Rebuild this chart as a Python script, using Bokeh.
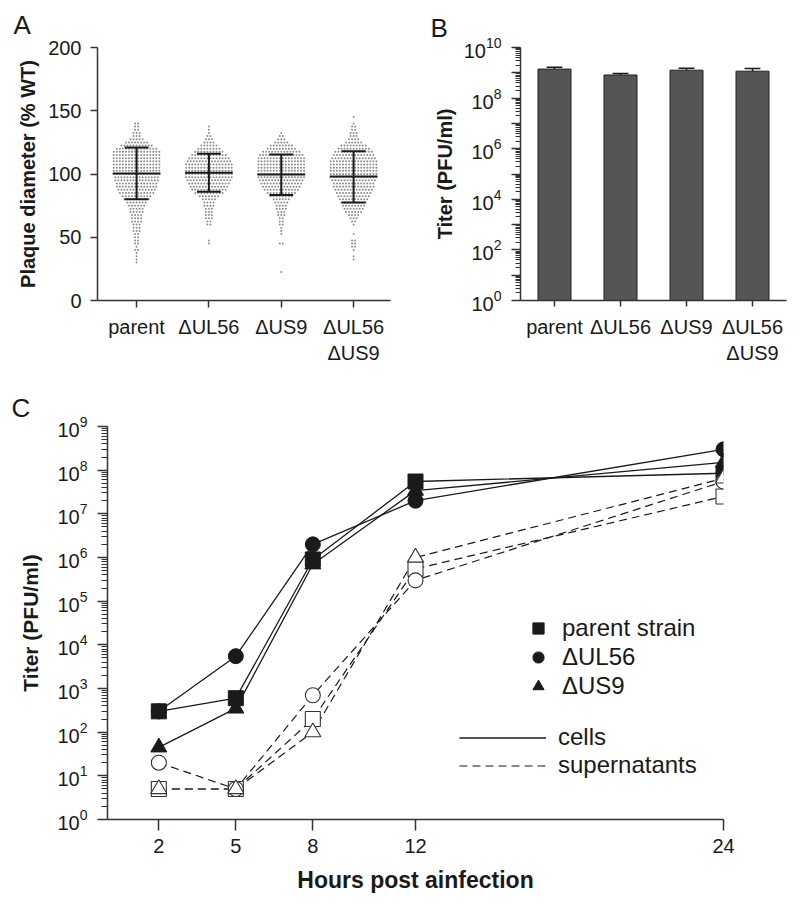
import numpy as np
from bokeh.plotting import figure
from bokeh.models import (Range1d, FixedTicker, Legend, LegendItem)
from bokeh.layouts import column, row
from bokeh.embed import file_html
from bokeh.resources import INLINE

FONT = "Liberation Sans"
INK = "#1a1a1a"
AX = "#333333"

# ---------------- Panel A data (plaque diameter, % WT) ----------------
strains = ["parent", "ΔUL56", "ΔUS9", "ΔUL56\nΔUS9"]
swarm_levels = [145, 142.5, 140, 137.5, 135, 132.5, 130, 127.5, 125, 122.5,
                120, 117.5, 115, 112.5, 110, 107.5, 105, 102.5, 100, 97.5,
                95, 92.5, 90, 87.5, 85, 82.5, 80, 77.5, 75, 72.5,
                70, 67.5, 65, 62.5, 60, 57.5, 55, 52.5, 50, 47.5,
                45, 42.5, 40, 37.5, 35, 32.5, 30, 27.5, 25, 22.5]
parent_counts = [0, 0, 2, 2, 2, 3, 3, 5, 8, 11,
                 14, 16, 16, 16, 16, 16, 16, 16, 16, 15,
                 15, 14, 14, 13, 12, 10, 9, 7, 6, 5,
                 5, 4, 4, 4, 3, 3, 3, 2, 2, 2,
                 2, 1, 2, 1, 1, 1, 1, 0, 0, 0]
ul56_counts = [0, 0, 0, 1, 1, 1, 2, 3, 4, 6,
               8, 10, 12, 14, 15, 16, 16, 16, 16, 16,
               15, 14, 13, 12, 10, 7, 5, 4, 4, 3,
               3, 3, 3, 2, 2, 0, 0, 0, 0, 1,
               1, 0, 0, 0, 0, 0, 0, 0, 0, 0]
us9_counts = [0, 0, 0, 0, 0, 1, 2, 3, 5, 8,
              10, 13, 15, 16, 16, 16, 16, 16, 16, 16,
              15, 14, 13, 12, 10, 8, 6, 5, 4, 4,
              3, 3, 2, 2, 2, 1, 1, 1, 0, 0,
              2, 0, 0, 0, 0, 0, 0, 0, 0, 1]
double_counts = [1, 0, 1, 2, 2, 3, 3, 4, 6, 9,
                 11, 13, 14, 15, 16, 16, 16, 16, 16, 16,
                 15, 14, 14, 13, 12, 11, 10, 9, 8, 7,
                 6, 4, 3, 2, 1, 0, 0, 1, 0, 2,
                 2, 2, 1, 0, 1, 1, 0, 0, 0, 0]
plaque_mean = [100.4, 101.0, 99.6, 98.0]
plaque_sd_hi = [121.0, 116.0, 115.5, 118.0]
plaque_sd_lo = [80.0, 86.0, 83.4, 77.4]

# ---------------- Panel B data (titer, PFU/ml) ----------------
titer_mean = [1.4e9, 8.2e8, 1.27e9, 1.16e9]
titer_err_top = [1.65e9, 9.4e8, 1.5e9, 1.47e9]

# ---------------- Panel C data (growth curves) ----------------
hours = [2, 5, 8, 12, 24]
parent_cells = [300, 600, 9e5, 5.5e7, 8.5e7]
ul56_cells = [300, 5.5e3, 2e6, 2e7, 3e8]
us9_cells = [45, 350, 7e5, 3.4e7, 1.5e8]
parent_sup = [5, 5, 200, 5.5e5, 2.5e7]
ul56_sup = [20, 5, 700, 3e5, 5.5e7]
us9_sup = [5, 5, 100, 1e6, 6.5e7]
legend_strains = ["parent strain", "ΔUL56", "ΔUS9"]
legend_kinds = ["cells", "supernatants"]


def style_axes(p, tick_size="20px"):
    for ax in list(p.xaxis) + list(p.yaxis):
        ax.axis_line_color = AX
        ax.axis_line_width = 1.5
        ax.major_tick_line_color = AX
        ax.major_tick_line_width = 1.5
        ax.minor_tick_line_color = None
        ax.major_tick_in = 0
        ax.major_label_text_font = FONT
        ax.major_label_text_font_size = tick_size
        ax.major_label_text_color = INK
        ax.axis_label_text_font = FONT
        ax.axis_label_text_font_style = "bold"
        ax.axis_label_text_color = INK
    p.xgrid.visible = False
    p.ygrid.visible = False
    p.outline_line_color = None


def panel_letter(p, text, offset, standoff):
    p.title.text = text
    p.title.align = "left"
    p.title.offset = offset
    p.title.standoff = standoff
    p.title.text_font = FONT
    p.title.text_font_size = "26px"
    p.title.text_font_style = "normal"
    p.title.text_color = INK


# ================= Panel A =================
pA = figure(width=408, height=372, x_range=Range1d(0.46, 4.51), y_range=Range1d(0, 200),
            output_backend="svg", toolbar_location=None,
            min_border_left=97, min_border_right=18, min_border_top=47, min_border_bottom=70)
style_axes(pA)
gx = [1, 2, 3, 4]
dx = 0.042
xs, ys = [], []
for g, counts in zip(gx, [parent_counts, ul56_counts, us9_counts, double_counts]):
    for lev, n in zip(swarm_levels, counts):
        if n == 0:
            continue
        off = (np.arange(n) - (n - 1) / 2.0) * dx
        xs.extend(list(g + off))
        ys.extend([lev] * n)
pA.scatter(xs, ys, size=2.0, fill_color="#8c8c8c", line_color=None)

gxa = np.array(gx, dtype=float)
pA.segment(x0=gxa - 0.33, x1=gxa + 0.33, y0=plaque_mean, y1=plaque_mean, line_color=INK, line_width=2)
pA.segment(x0=gxa, x1=gxa, y0=plaque_sd_lo, y1=plaque_sd_hi, line_color=INK, line_width=2)
pA.segment(x0=gxa - 0.165, x1=gxa + 0.165, y0=plaque_sd_hi, y1=plaque_sd_hi, line_color=INK, line_width=2)
pA.segment(x0=gxa - 0.165, x1=gxa + 0.165, y0=plaque_sd_lo, y1=plaque_sd_lo, line_color=INK, line_width=2)

pA.xaxis.ticker = FixedTicker(ticks=gx)
pA.xaxis.major_label_overrides = {g: s for g, s in zip(gx, strains)}
pA.xaxis.major_tick_out = 7
pA.xaxis.major_label_standoff = 8
pA.yaxis.ticker = FixedTicker(ticks=[0, 50, 100, 150, 200])
pA.yaxis.major_tick_out = 7
pA.yaxis.major_label_standoff = 9
pA.yaxis.axis_label = "Plaque diameter (% WT)"
pA.yaxis.axis_label_text_font_size = "20px"
pA.yaxis.axis_label_standoff = 6
panel_letter(pA, "A", -84, 15)

# ================= Panel B =================
pB = figure(width=384, height=372, x_range=Range1d(0.485, 4.515), y_range=Range1d(1, 1e10),
            y_axis_type="log", output_backend="svg", toolbar_location=None,
            min_border_left=112, min_border_right=6, min_border_top=40, min_border_bottom=72)
style_axes(pB)
pB.vbar(x=gx, top=titer_mean, bottom=1, width=0.5, fill_color="#555555",
        line_color="#222222", line_width=1)
pB.segment(x0=gxa, x1=gxa, y0=titer_mean, y1=titer_err_top, line_color=INK, line_width=1.5)
pB.segment(x0=gxa - 0.12, x1=gxa + 0.12, y0=titer_err_top, y1=titer_err_top, line_color=INK, line_width=1.5)
pB.xaxis.ticker = FixedTicker(ticks=gx)
pB.xaxis.major_label_overrides = {g: s for g, s in zip(gx, strains)}
pB.xaxis.major_tick_out = 6
pB.xaxis.major_label_standoff = 9
decadesB = [10 ** k for k in range(0, 11)]
minorB = [m * 10 ** k for k in range(0, 10) for m in range(2, 10)]
pB.yaxis.ticker = FixedTicker(ticks=decadesB, minor_ticks=minorB)
pB.yaxis.major_label_overrides = {10 ** k: "" for k in range(1, 10, 2)}
pB.yaxis.minor_tick_line_color = AX
pB.yaxis.minor_tick_line_width = 1
pB.yaxis.minor_tick_in = 0
pB.yaxis.minor_tick_out = 5
pB.yaxis.major_tick_out = 9
pB.yaxis.major_label_standoff = 10
pB.yaxis.axis_label = "Titer (PFU/ml)"
pB.yaxis.axis_label_text_font_size = "20px"
pB.yaxis.axis_label_standoff = 5
panel_letter(pB, "B", -90, 9)

# ================= Panel C =================
pC = figure(width=792, height=530, x_range=Range1d(0, 24), y_range=Range1d(1, 1e9),
            y_axis_type="log", output_backend="svg", toolbar_location=None,
            min_border_left=107, min_border_right=69, min_border_top=54, min_border_bottom=83)
style_axes(pC)
solid = dict(line_color=INK, line_width=1.3)
dashed = dict(line_color=INK, line_width=1.2, line_dash="8 5")
l_cells = pC.line(hours, parent_cells, **solid)
pC.line(hours, ul56_cells, **solid)
pC.line(hours, us9_cells, **solid)
l_sup = pC.line(hours, parent_sup, **dashed)
pC.line(hours, ul56_sup, **dashed)
pC.line(hours, us9_sup, **dashed)

r_sq = pC.scatter(hours, parent_cells, marker="square", size=15, fill_color=INK, line_color=INK)
r_ci = pC.scatter(hours, ul56_cells, marker="circle", size=15, fill_color=INK, line_color=INK)
r_tr = pC.scatter(hours, us9_cells, marker="triangle", size=16, fill_color=INK, line_color=INK)
openm = dict(fill_color="white", line_color="#333333", line_width=1.1)
pC.scatter(hours, parent_sup, marker="square", size=15, **openm)
pC.scatter(hours, ul56_sup, marker="circle", size=15, **openm)
pC.scatter(hours, us9_sup, marker="triangle", size=16, **openm)

pC.xaxis.ticker = FixedTicker(ticks=hours)
pC.xaxis.major_tick_out = 11
pC.xaxis.major_label_standoff = 8
pC.xaxis.axis_label = "Hours post ainfection"
pC.xaxis.axis_label_text_font_size = "23px"
pC.xaxis.axis_label_standoff = 11
decadesC = [10 ** k for k in range(0, 10)]
minorC = [m * 10 ** k for k in range(0, 9) for m in range(2, 10)]
pC.yaxis.ticker = FixedTicker(ticks=decadesC, minor_ticks=minorC)
pC.yaxis.minor_tick_line_color = AX
pC.yaxis.minor_tick_line_width = 1
pC.yaxis.minor_tick_in = 0
pC.yaxis.minor_tick_out = 6
pC.yaxis.major_tick_out = 10
pC.yaxis.major_label_standoff = 10
pC.yaxis.axis_label = "Titer (PFU/ml)"
pC.yaxis.axis_label_text_font_size = "21px"
pC.yaxis.axis_label_standoff = 12

leg_common = dict(border_line_color=None, background_fill_alpha=0, padding=0, margin=0,
                  label_text_font=FONT, label_text_font_size="24px", label_text_color=INK,
                  orientation="vertical")
leg1 = Legend(items=[LegendItem(label=legend_strains[0], renderers=[r_sq]),
                     LegendItem(label=legend_strains[1], renderers=[r_ci]),
                     LegendItem(label=legend_strains[2], renderers=[r_tr])],
              location=(417, 119), glyph_width=28, glyph_height=28, spacing=1,
              label_standoff=10, **leg_common)
leg2 = Legend(items=[LegendItem(label=legend_kinds[0], renderers=[l_cells]),
                     LegendItem(label=legend_kinds[1], renderers=[l_sup])],
              location=(352, 40), glyph_width=87, glyph_height=25, spacing=0,
              label_standoff=12, **leg_common)
pC.add_layout(leg1)
pC.add_layout(leg2)
panel_letter(pC, "C", -96, 8)

layout = column(row(pA, pB), pC)
open("out.html", "w").write(file_html(layout, INLINE))
